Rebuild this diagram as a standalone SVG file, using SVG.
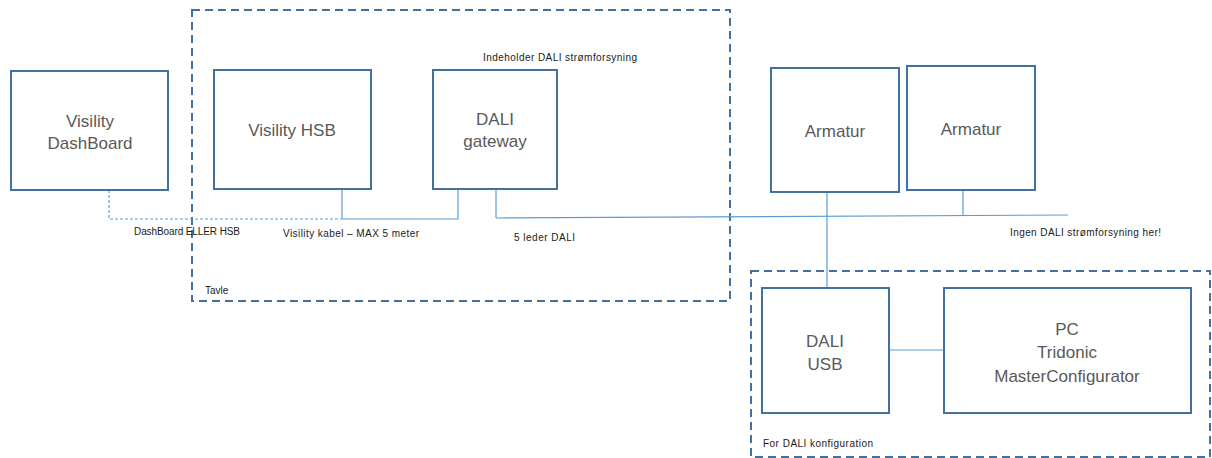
<svg xmlns="http://www.w3.org/2000/svg" width="1212" height="458" viewBox="0 0 1212 458">
<style>
.box{fill:#fff;stroke:#41719C;stroke-width:2}
.grp{fill:none;stroke:#41719C;stroke-width:2;stroke-dasharray:8,5}
.ln{fill:none;stroke:#5B9BD5;stroke-width:1.2}
.dl{fill:none;stroke:#5B9BD5;stroke-width:1.2;stroke-dasharray:3,2}
.nt{font-family:"Liberation Sans",Arial,sans-serif;font-size:17px;fill:#595959;text-anchor:middle}
.lb{font-family:"Liberation Sans",Arial,sans-serif;font-size:10px;fill:#1a1a1a}
</style>
<rect width="1212" height="458" fill="#fff"/>
<g id="tavle">
<rect class="grp" x="192" y="10" width="538" height="291"/>
<text class="lb" x="205" y="294">Tavle</text>
</g>
<g id="config">
<rect class="grp" x="751" y="271" width="459" height="186"/>
<text class="lb" x="763" y="447" textLength="110">For DALI konfiguration</text>
</g>
<g id="connectors">
<polyline class="dl" points="109,190 109,219 341,219"/>
<polyline class="ln" points="342,189 342,219 458,219 458,189"/>
<polyline class="ln" points="496,189 496,218"/>
<line class="ln" x1="496" y1="218" x2="1068" y2="215"/>
<line class="ln" x1="827" y1="192" x2="827" y2="288"/>
<line class="ln" x1="963" y1="190" x2="963" y2="216"/>
<line class="ln" x1="889" y1="350" x2="944" y2="350"/>
</g>
<g id="dashboard">
<rect class="box" x="11" y="71" width="157" height="119"/>
<text class="nt" x="90" y="127">Visility</text>
<text class="nt" x="90" y="149">DashBoard</text>
</g>
<g id="hsb">
<rect class="box" x="214" y="70" width="157" height="119"/>
<text class="nt" x="292" y="136">Visility HSB</text>
</g>
<g id="gateway">
<rect class="box" x="433" y="70" width="124" height="119"/>
<text class="nt" x="495" y="125">DALI</text>
<text class="nt" x="495" y="147">gateway</text>
</g>
<g id="armatur1">
<rect class="box" x="771" y="68" width="128" height="124"/>
<text class="nt" x="835" y="137">Armatur</text>
</g>
<g id="armatur2">
<rect class="box" x="907" y="66" width="128" height="124"/>
<text class="nt" x="971" y="135">Armatur</text>
</g>
<g id="daliusb">
<rect class="box" x="762" y="288" width="127" height="125"/>
<text class="nt" x="825" y="347">DALI</text>
<text class="nt" x="825" y="370">USB</text>
</g>
<g id="pc">
<rect class="box" x="944" y="288" width="247" height="125"/>
<text class="nt" x="1067" y="335">PC</text>
<text class="nt" x="1067" y="358">Tridonic</text>
<text class="nt" x="1067" y="382">MasterConfigurator</text>
</g>
<g id="labels">
<text class="lb" x="483" y="61" textLength="154">Indeholder DALI strømforsyning</text>
<text class="lb" x="134" y="235" textLength="106">DashBoard ELLER HSB</text>
<text class="lb" x="283" y="237" textLength="136">Visility kabel – MAX 5 meter</text>
<text class="lb" x="514" y="241" textLength="61">5 leder DALI</text>
<text class="lb" x="1010" y="236" textLength="151">Ingen DALI strømforsyning her!</text>
</g>
</svg>
